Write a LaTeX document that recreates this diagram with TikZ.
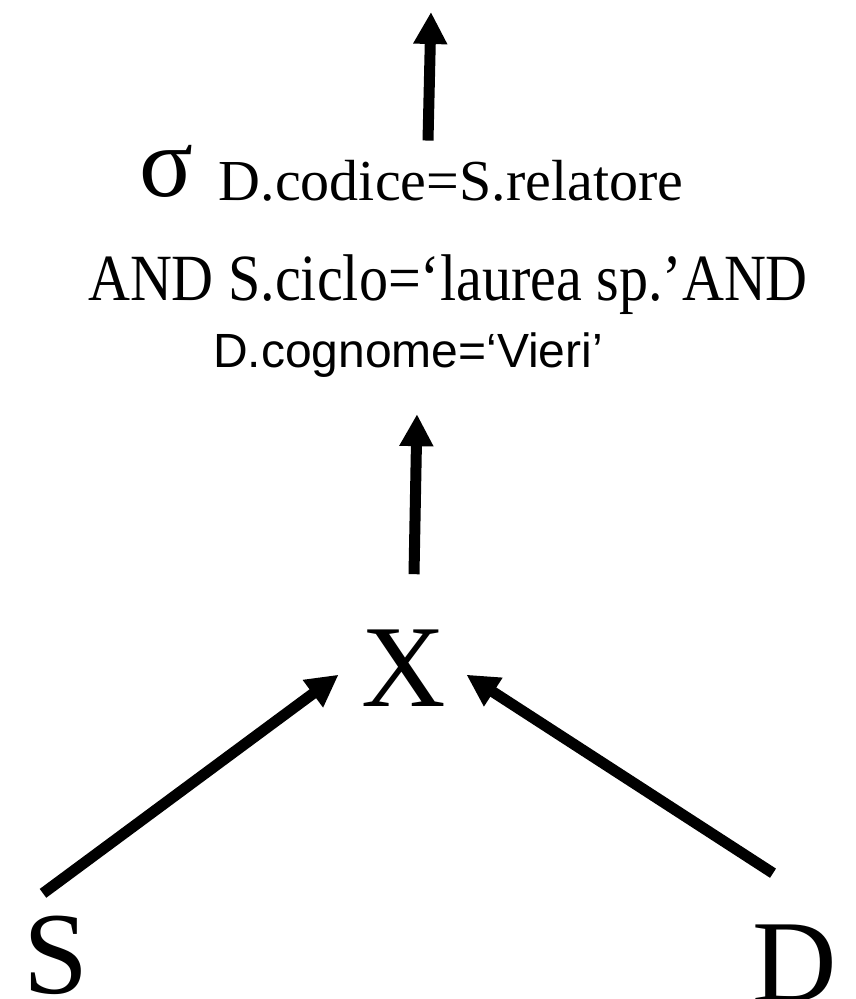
\documentclass[tikz,border=0pt]{standalone}
\usepackage{fontspec}
\setmainfont{Liberation Serif}
\newfontfamily\arialfont{Liberation Sans}
\usepackage{tikz}
\usetikzlibrary{arrows.meta,positioning}
\tikzstyle{lbl}=[inner sep=0pt, anchor=base]
\tikzstyle{rel}=[lbl, font=\fontsize{117}{117}\selectfont]
\tikzstyle{arr}=[line width=11pt, -{Triangle[length=32pt,width=32pt]}]

\begin{document}
\begin{tikzpicture}
 [x=1pt, y=-1pt]
 \useasboundingbox (0,0) rectangle (856,999);
 \node[lbl, font=\fontsize{100}{100}\selectfont] (sel) at (166,196) {σ};
 \node[lbl, font=\fontsize{58}{58}\selectfont] (cond1) at (451,200) {D.codice=S.relatore};
 \node[lbl, font=\fontsize{66}{66}\selectfont, xscale=0.88] (cond2) at (448,300) {AND S.ciclo=‘laurea sp.’AND};
 \node[lbl, font=\fontsize{48}{48}\arialfont] (cond3) at (408,367) {D.cognome=‘Vieri’};
 \node[rel] (join) at (404,706) {X};
 \node[rel] (relS) at (56,993) {S};
 \node[rel] (relD) at (795,1001) {D};
 \coordinate (out) at (431,12);
 \path[arr]
   ([xshift=-23pt,yshift=19pt]cond1.north) edge (out)
   ([xshift=10pt,yshift=55pt]join.north) edge ([xshift=9pt,yshift=-37pt]cond3.south)
   ([xshift=-13pt,yshift=22pt]relS.north) edge ([xshift=-23pt,yshift=-7pt]join.west)
   ([xshift=-22pt,yshift=51pt]relD.north) edge ([xshift=20pt,yshift=-7pt]join.east);
\end{tikzpicture}
\end{document}
